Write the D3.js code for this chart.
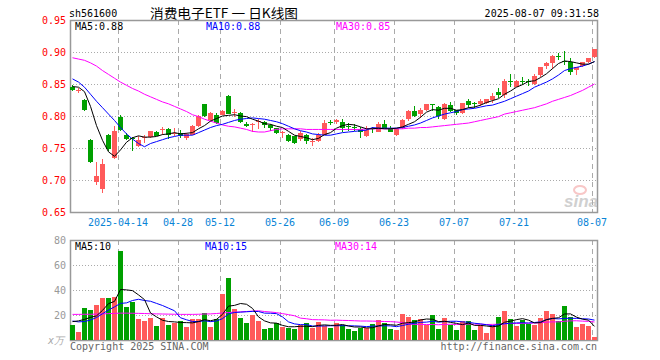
<!DOCTYPE html>
<html>
<head>
<meta charset="utf-8">
<script src="https://cdn.jsdelivr.net/npm/d3@7"></script>
<style>
body { margin: 0; background: #fff; }
svg { display: block; }
text { font-family: "DejaVu Sans Mono", monospace; font-size: 10px; }
</style>
</head>
<body>
<svg width="660" height="360"></svg>
<script>
// trading days 2025-04-01 .. 2025-08-07
const dates = ["04-01","04-02","04-03","04-07","04-08","04-09","04-10","04-11","04-14","04-15",
  "04-16","04-17","04-18","04-21","04-22","04-23","04-24","04-25","04-28","04-29",
  "04-30","05-06","05-07","05-08","05-09","05-12","05-13","05-14","05-15","05-16",
  "05-19","05-20","05-21","05-22","05-23","05-26","05-27","05-28","05-29","05-30",
  "06-03","06-04","06-05","06-06","06-09","06-10","06-11","06-12","06-13","06-16",
  "06-17","06-18","06-19","06-20","06-23","06-24","06-25","06-26","06-27","06-30",
  "07-01","07-02","07-03","07-04","07-07","07-08","07-09","07-10","07-11","07-14",
  "07-15","07-16","07-17","07-18","07-21","07-22","07-23","07-24","07-25","07-28",
  "07-29","07-30","07-31","08-01","08-04","08-05","08-06","08-07"];

const open = [.846,.840,.825,.763,.696,.686,.771,.734,.798,.771,
  .765,.754,.765,.767,.775,.778,.780,.772,.774,.765,
  .771,.785,.818,.793,.802,.802,.832,.806,.804,.788,
  .786,.791,.791,.786,.781,.774,.771,.768,.765,.771,
  .760,.761,.771,.790,.790,.791,.785,.783,.780,.768,
  .781,.776,.788,.780,.770,.781,.795,.808,.803,.809,
  .818,.814,.795,.817,.809,.804,.824,.820,.819,.820,
  .826,.837,.832,.854,.846,.854,.854,.851,.863,.878,
  .882,.894,.886,.884,.871,.878,.884,.891];
const high = [.848,.843,.826,.764,.728,.733,.772,.785,.802,.774,
  .767,.768,.771,.777,.776,.783,.781,.781,.778,.774,
  .786,.801,.819,.806,.804,.809,.833,.811,.806,.790,
  .789,.796,.792,.787,.782,.777,.772,.769,.776,.772,
  .765,.773,.793,.793,.795,.795,.789,.787,.783,.784,
  .783,.790,.793,.784,.782,.795,.809,.815,.812,.819,
  .819,.815,.821,.822,.810,.821,.826,.822,.826,.827,
  .836,.844,.858,.865,.856,.861,.858,.865,.877,.885,
  .895,.898,.901,.890,.877,.885,.891,.905];
const low = [.839,.836,.808,.727,.692,.679,.746,.733,.777,.762,
  .746,.752,.758,.765,.768,.771,.764,.769,.766,.763,
  .770,.783,.799,.792,.788,.801,.803,.798,.789,.783,
  .775,.780,.781,.777,.772,.765,.759,.756,.761,.756,
  .753,.759,.770,.786,.788,.775,.777,.777,.766,.767,
  .774,.775,.779,.775,.768,.779,.792,.799,.797,.808,
  .808,.796,.794,.806,.801,.803,.813,.813,.816,.819,
  .820,.828,.828,.845,.845,.848,.847,.849,.861,.873,
  .874,.887,.879,.864,.864,.876,.883,.890];
const close = [.841,.841,.810,.729,.706,.725,.749,.776,.778,.765,
  .763,.763,.767,.776,.769,.779,.771,.773,.769,.772,
  .785,.800,.800,.804,.789,.808,.804,.807,.790,.785,
  .787,.792,.787,.782,.773,.775,.762,.757,.774,.761,
  .761,.771,.789,.789,.793,.781,.783,.782,.776,.778,
  .780,.788,.780,.776,.779,.793,.808,.800,.809,.818,
  .817,.800,.818,.808,.804,.820,.817,.819,.824,.826,
  .832,.832,.854,.853,.855,.853,.853,.863,.876,.883,
  .893,.893,.885,.869,.876,.884,.890,.904];

const ma5 = [.846,.845,.838,.815,.785,.762,.744,.737,.747,.759,
  .766,.769,.767,.767,.768,.771,.772,.774,.772,.773,
  .774,.780,.785,.792,.796,.800,.801,.802,.800,.799,
  .795,.792,.788,.787,.784,.782,.776,.770,.768,.766,
  .763,.765,.771,.774,.781,.785,.787,.786,.783,.780,
  .780,.781,.780,.780,.781,.783,.787,.791,.798,.806,
  .810,.809,.812,.812,.809,.810,.813,.814,.817,.821,
  .824,.827,.834,.839,.845,.849,.854,.855,.860,.866,
  .874,.882,.886,.885,.883,.881,.881,.885];
const ma10 = [.858,.853,.845,.834,.823,.813,.803,.793,.782,.772,
  .764,.757,.752,.757,.760,.763,.766,.768,.770,.770,
  .770,.774,.778,.782,.785,.787,.790,.793,.795,.796,
  .797,.796,.795,.793,.791,.788,.784,.780,.777,.775,
  .772,.771,.770,.770,.772,.774,.775,.776,.777,.778,
  .782,.781,.781,.781,.781,.782,.784,.786,.789,.793,
  .797,.800,.803,.805,.807,.810,.811,.812,.814,.816,
  .817,.820,.823,.827,.831,.835,.839,.845,.849,.853,
  .858,.864,.871,.874,.876,.878,.881,.885];
const ma30 = [.891,.889,.887,.883,.878,.871,.865,.859,.853,.848,
  .843,.839,.834,.830,.826,.822,.819,.815,.811,.807,
  .802,.799,.795,.792,.789,.786,.784,.783,.781,.779,
  .776,.775,.775,.777,.779,.780,.780,.780,.780,.779,
  .779,.779,.779,.779,.779,.779,.779,.779,.779,.780,
  .780,.780,.780,.780,.780,.780,.781,.781,.782,.782,
  .783,.784,.785,.786,.787,.788,.789,.791,.793,.795,
  .797,.799,.803,.805,.807,.809,.811,.813,.816,.819,
  .823,.826,.829,.832,.836,.840,.845,.850];

// volume, x万
const volume = [12,6.7,25.9,24,28,33.9,33.9,34.7,71.5,26.7,
  30.7,17,15.5,17.9,11.2,17.3,12,13.9,15.5,10.7,
  16.5,17,21.9,10.7,16.5,36.5,49.9,25,17.9,13.9,
  20,15.5,9,9.9,13.3,10.7,10,9,12,13.3,
  9.3,14.7,11.2,10,13.9,12,8.8,7.5,10,10,
  12.8,16,13.3,8.8,8,20.8,18.4,16,16.8,12,
  20,8.8,17.6,12,8,15.2,15.2,8,12,5.6,
  12,18.4,23.2,16.5,11.2,16,12.8,12,17.6,23.2,
  20.8,15.2,27.2,18.1,10.4,12.5,11.2,2.4];
const volMa5 = [14.7,15.3,16.5,18.1,19.3,23.7,29.1,30.9,40.4,40.1,
  39.5,36.1,32.3,21.6,18.5,15.8,14.8,14.5,14.0,13.9,
  13.7,14.7,16.3,15.4,16.5,20.5,27.1,27.7,29.2,28.6,
  25.3,18.5,15.3,13.7,13.5,11.7,10.6,10.6,11.0,11.0,
  10.7,11.7,12.1,11.7,11.8,12.4,11.2,10.4,10.4,9.7,
  9.8,11.3,12.4,12.2,11.8,13.4,13.9,14.4,16.0,16.8,
  16.6,14.7,15.0,14.1,13.3,12.3,13.6,11.7,11.7,11.2,
  10.6,11.2,14.2,15.1,16.3,17.1,15.9,13.7,13.9,16.3,
  17.3,17.8,20.8,20.9,18.3,16.7,15.9,10.9];
const volMa10 = [15.2,14.5,14.8,16,18,21,24,26.5,29.3,29.7,
  31.6,32.6,31.6,31.0,29.3,27.6,25.5,23.4,17.8,16.2,
  14.8,14.8,15.4,14.7,15.2,17.1,20.9,22.0,22.3,22.6,
  22.9,22.8,21.5,21.4,21.1,18.5,14.5,12.9,12.3,12.3,
  11.2,11.1,11.3,11.4,11.4,11.5,11.4,11.3,11.1,10.7,
  11.1,11.2,11.4,11.3,10.7,11.6,12.6,13.4,14.1,14.3,
  15.0,14.3,14.7,15.0,15.0,14.5,14.2,13.4,12.9,12.2,
  11.4,12.4,13.0,13.4,13.7,13.8,13.6,14.0,14.5,16.3,
  17.2,16.9,17.3,17.4,17.3,17.0,16.8,15.9];
const volMa30 = [20.5,20.5,20.6,20.6,20.7,20.9,21.1,21.3,21.5,21.5,
  21.4,21.3,21.2,21.0,20.9,20.8,20.7,20.6,20.5,20.5,
  20.5,20.6,20.8,20.9,21.2,21.6,22.0,22.3,22.5,22.8,
  23.1,23.4,22.8,22.4,21.9,21.1,20.3,19.4,17.5,17.0,
  16.3,16.2,16.1,15.8,15.9,15.7,15.6,15.4,15.2,15.2,
  15.1,15.0,14.8,14.7,14.4,13.9,12.8,12.5,12.5,12.4,
  12.4,12.2,12.5,12.6,12.4,12.5,12.7,12.7,12.7,12.4,
  12.5,12.6,13.0,13.3,13.2,13.3,13.4,13.6,13.8,14.3,
  14.5,14.5,15.0,15.3,15.4,15.1,14.9,14.4];

const tickDates = ["04-14","04-28","05-12","05-26","06-09","06-23","07-07","07-21","08-07"];
const tickLabels = ["2025-04-14","04-28","05-12","05-26","06-09","06-23","07-07","07-21","08-07"];
const priceTicks = [0.95,0.90,0.85,0.80,0.75,0.70,0.65];
const volTicks = [80,60,40,20];

const UP = "#ff5a5a", DOWN = "#00a000", GRID = "#aaa";
const svg = d3.select("svg");

const x = d3.scaleBand().domain(dates).range([70, 597]).paddingInner(1/6).paddingOuter(0);
const xc = d => x(d) + 2.5;
const y = d3.scaleLinear().domain([0.65, 0.95]).range([212, 20]);
const yv = d3.scaleLinear().domain([0, 80]).range([340, 240]);

// header
svg.append("text").attr("x", 69).attr("y", 17).text("sh561600");
svg.append("text").attr("x", 150).attr("y", 18)
  .style("font-family", "'Noto Sans CJK SC', sans-serif").style("font-size", "13px")
  .attr("textLength", 148).attr("lengthAdjust", "spacingAndGlyphs")
  .text("消费电子ETF 一 日K线图");
svg.append("text").attr("x", 599).attr("y", 17).attr("text-anchor", "end").text("2025-08-07 09:31:58");

// panels
function panel(top, bottom, hVals, ys) {
  const g = svg.append("g");
  g.selectAll(".h").data(hVals).join("line")
    .attr("x1", 70).attr("x2", 597)
    .attr("y1", d => Math.round(ys(d)) + 0.5).attr("y2", d => Math.round(ys(d)) + 0.5)
    .attr("stroke", GRID).attr("stroke-dasharray", "1,2");
  g.selectAll(".v").data(tickDates).join("line")
    .attr("x1", d => x(d) + 0.5).attr("x2", d => x(d) + 0.5)
    .attr("y1", top).attr("y2", bottom)
    .attr("stroke", GRID).attr("stroke-dasharray", "5,4");
  g.append("rect").attr("x", 70.5).attr("y", top + 0.5)
    .attr("width", 527).attr("height", bottom - top)
    .attr("fill", "none").attr("stroke", "#999").attr("stroke-width", 1.5);
}
panel(20, 212, [0.90, 0.85, 0.80, 0.75, 0.70], y);
panel(240, 340, [60, 40, 20], yv);

// watermark
const wm = svg.append("g").attr("opacity", 0.55);
wm.append("ellipse").attr("cx", 580).attr("cy", 190).attr("rx", 6).attr("ry", 4)
  .attr("fill", "none").attr("stroke", "#f39a9a").attr("stroke-width", 2);
wm.append("text").attr("x", 564).attr("y", 207)
  .style("font-family", "'Liberation Sans', sans-serif").style("font-size", "17px")
  .style("font-style", "italic").style("font-weight", "bold")
  .attr("fill", "#aaa").text("sina");

// price axis labels
svg.selectAll(".pl").data(priceTicks).join("text")
  .attr("x", 66).attr("y", d => y(d) + 4).attr("text-anchor", "end")
  .attr("fill", "#f00").text(d => d3.format(".2f")(d));
// vol axis labels
svg.selectAll(".vl").data(volTicks).join("text")
  .attr("x", 66).attr("y", d => yv(d) + 4).attr("text-anchor", "end")
  .attr("fill", "#999").text(d => d);
svg.append("text").attr("x", 64).attr("y", 344).attr("text-anchor", "end")
  .attr("fill", "#aaa").style("font-style", "italic").text("x万");

// date labels
svg.selectAll(".dl").data(tickDates).join("text")
  .attr("x", d => x(d)).attr("y", 226).attr("text-anchor", "middle")
  .attr("fill", "#0a84d6").text((d, i) => tickLabels[i]);

// candles
const bars = dates.map((d, i) => ({d, o: open[i], h: high[i], l: low[i], c: close[i], v: volume[i]}));
const col = b => b.c >= b.o ? UP : DOWN;
const cg = svg.append("g");
cg.selectAll("line").data(bars).join("line")
  .attr("x1", b => Math.floor(xc(b.d)) + 0.5).attr("x2", b => Math.floor(xc(b.d)) + 0.5)
  .attr("y1", b => Math.round(y(b.h))).attr("y2", b => Math.round(y(b.l)))
  .attr("stroke", col);
cg.selectAll("rect").data(bars).join("rect")
  .attr("x", b => x(b.d)).attr("width", x.bandwidth())
  .attr("y", b => Math.round(y(Math.max(b.o, b.c))))
  .attr("height", b => Math.max(1, Math.round(Math.abs(y(b.o) - y(b.c)))))
  .attr("fill", col);

// volume bars
svg.append("g").selectAll("rect").data(bars).join("rect")
  .attr("x", b => x(b.d)).attr("width", x.bandwidth())
  .attr("y", b => Math.round(yv(b.v))).attr("height", b => 340 - Math.round(yv(b.v)))
  .attr("fill", col);

// moving average lines
function maLine(vals, ys, color) {
  svg.append("path").datum(vals)
    .attr("d", d3.line().x((v, i) => xc(dates[i])).y(v => ys(v)))
    .attr("fill", "none").attr("stroke", color).attr("stroke-width", 1);
}
maLine(ma30, y, "#f0f"); maLine(ma10, y, "#00f"); maLine(ma5, y, "#000");
maLine(volMa30, yv, "#f0f"); maLine(volMa10, yv, "#00f"); maLine(volMa5, yv, "#000");

// MA legends (values truncated, like the source)
const last = a => a[a.length - 1];
const trunc2 = v => (Math.floor(v * 100 + 1e-6) / 100).toFixed(2);
const legend = (yy, items) => items.forEach(([lx, txt, c]) =>
  svg.append("text").attr("x", lx).attr("y", yy).attr("fill", c).text(txt));
legend(30, [[75, "MA5:" + trunc2(last(ma5)), "#000"],
            [206, "MA10:" + trunc2(last(ma10)), "#00f"],
            [336, "MA30:" + trunc2(last(ma30)), "#f0f"]]);
legend(250, [[75, "MA5:" + Math.floor(last(volMa5)), "#000"],
             [205, "MA10:" + Math.floor(last(volMa10)), "#00f"],
             [335, "MA30:" + Math.floor(last(volMa30)), "#f0f"]]);

// footer
svg.append("text").attr("x", 70).attr("y", 350).attr("fill", "#666").text("Copyright 2025 SINA.COM");
svg.append("text").attr("x", 597).attr("y", 350).attr("text-anchor", "end").attr("fill", "#666")
  .text("http://finance.sina.com.cn");
</script>
</body>
</html>
